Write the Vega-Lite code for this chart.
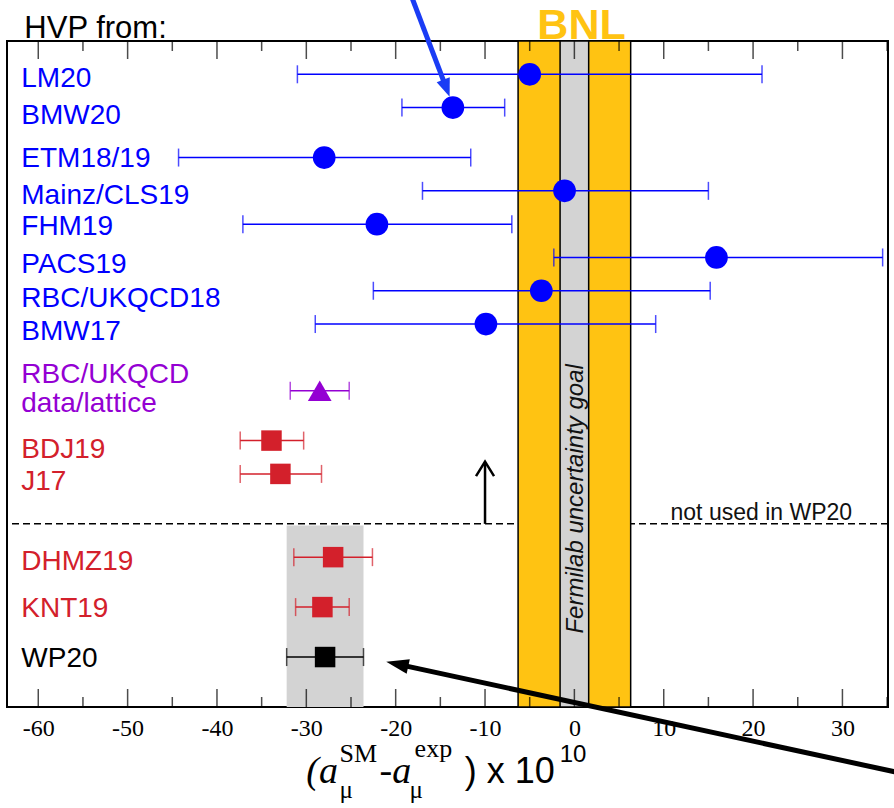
{
  "$schema": "https://vega.github.io/schema/vega-lite/v6.json",
  "width": 881,
  "height": 666,
  "autosize": {"type": "none"},
  "padding": {"left": 7, "top": 41, "right": 6, "bottom": 101},
  "background": "white",
  "data": {"values": [{}]},
  "config": {
    "view": {"stroke": "#000", "strokeWidth": 2},
    "font": "Liberation Sans",
    "axisY": {"disable": true},
    "axisX": {"ticks": false, "domain": false, "grid": false, "labelFont": "Liberation Serif", "labelFontSize": 24, "labelColor": "#000", "labelPadding": 9, "tickCount": 10, "labelExpr": "'' + datum.value", "labelFlush": false, "labelOverlap": false}
  },
  "datasets": {
    "main": [
      {"name": "LM20", "g": "lat", "v": -5.0, "lo": -31.0, "hi": 21.0, "y": 1.0},
      {"name": "BMW20", "g": "lat", "v": -13.6, "lo": -19.3, "hi": -7.8, "y": 2.0},
      {"name": "ETM18/19", "g": "lat", "v": -28.0, "lo": -44.3, "hi": -11.6, "y": 3.5},
      {"name": "Mainz/CLS19", "g": "lat", "v": -1.1, "lo": -17.0, "hi": 15.0, "y": 4.5},
      {"name": "FHM19", "g": "lat", "v": -22.1, "lo": -37.1, "hi": -7.0, "y": 5.5},
      {"name": "PACS19", "g": "lat", "v": 15.9, "lo": -2.3, "hi": 34.5, "y": 6.5},
      {"name": "RBC/UKQCD18", "g": "lat", "v": -3.7, "lo": -22.5, "hi": 15.2, "y": 7.5},
      {"name": "BMW17", "g": "lat", "v": -9.9, "lo": -29.0, "hi": 9.1, "y": 8.5},
      {"name": "RBC/UKQCD data/lattice", "g": "rbc", "v": -28.5, "lo": -31.8, "hi": -25.2, "y": 10.5},
      {"name": "BDJ19", "g": "phen", "v": -33.9, "lo": -37.4, "hi": -30.3, "y": 12.0},
      {"name": "J17", "g": "phen", "v": -32.9, "lo": -37.4, "hi": -28.3, "y": 13.0},
      {"name": "DHMZ19", "g": "phen", "v": -27.0, "lo": -31.4, "hi": -22.6, "y": 15.5},
      {"name": "KNT19", "g": "phen", "v": -28.2, "lo": -31.2, "hi": -25.2, "y": 17.0},
      {"name": "WP20", "g": "wp", "v": -27.9, "lo": -32.2, "hi": -23.6, "y": 18.5}
    ],
    "labels": [
      {"t": "LM20", "g": "lat", "ly": 1.37},
      {"t": "BMW20", "g": "lat", "ly": 2.49},
      {"t": "ETM18/19", "g": "lat", "ly": 3.78},
      {"t": "Mainz/CLS19", "g": "lat", "ly": 4.89},
      {"t": "FHM19", "g": "lat", "ly": 5.83},
      {"t": "PACS19", "g": "lat", "ly": 6.97},
      {"t": "RBC/UKQCD18", "g": "lat", "ly": 7.99},
      {"t": "BMW17", "g": "lat", "ly": 8.98},
      {"t": "RBC/UKQCD", "g": "rbc", "ly": 10.27},
      {"t": "data/lattice", "g": "rbc", "ly": 11.14},
      {"t": "BDJ19", "g": "phen", "ly": 12.52},
      {"t": "J17", "g": "phen", "ly": 13.48},
      {"t": "DHMZ19", "g": "phen", "ly": 15.89},
      {"t": "KNT19", "g": "phen", "ly": 17.3},
      {"t": "WP20", "g": "wp", "ly": 18.8}
    ],
    "bands": [
      {"band": "WP20", "lo": -32.2, "hi": -23.6, "top": 14.55, "bot": 20},
      {"band": "BNL", "lo": -6.3, "hi": 6.3, "top": 0, "bot": 20},
      {"band": "Fermilab", "lo": -1.6, "hi": 1.6, "top": 0, "bot": 20}
    ],
    "ticks": [
      {"v": -60, "kind": "major"}, {"v": -50, "kind": "major"}, {"v": -40, "kind": "major"}, {"v": -30, "kind": "major"}, {"v": -20, "kind": "major"},
      {"v": -10, "kind": "major"}, {"v": 0, "kind": "major"}, {"v": 10, "kind": "major"}, {"v": 20, "kind": "major"}, {"v": 30, "kind": "major"},
      {"v": -55, "kind": "minor"}, {"v": -45, "kind": "minor"}, {"v": -35, "kind": "minor"}, {"v": -25, "kind": "minor"}, {"v": -15, "kind": "minor"},
      {"v": -5, "kind": "minor"}, {"v": 5, "kind": "minor"}, {"v": 15, "kind": "minor"}, {"v": 25, "kind": "minor"}, {"v": 35, "kind": "minor"}
    ],
    "arrows": [
      {"arrow": "blue", "x": -18.5, "y": -1.53, "x2": -14.36, "y2": 1.39},
      {"arrow": "black", "x": 38.67, "y": 22.11, "x2": -19.69, "y2": 18.72}
    ]
  },
  "layer": [
    {
      "data": {"name": "bands"},
      "transform": [{"filter": "datum.band == 'WP20'"}],
      "mark": {"type": "rect", "fill": "#d3d3d3"},
      "encoding": {
        "x": {"field": "lo", "type": "quantitative", "title": null, "scale": {"domain": [-63.5, 35.1], "nice": false, "zero": false}},
        "x2": {"field": "hi"},
        "y": {"field": "top", "type": "quantitative", "scale": {"domain": [0, 20], "reverse": true, "nice": false, "zero": false}},
        "y2": {"field": "bot"}
      }
    },
    {
      "mark": {"type": "rule", "strokeDash": [7, 4], "strokeWidth": 1.5, "color": "#000"},
      "encoding": {"y": {"datum": 14.5, "type": "quantitative"}}
    },
    {
      "data": {"name": "bands"},
      "transform": [{"filter": "datum.band == 'BNL'"}],
      "mark": {"type": "rect", "fill": "#ffc312", "stroke": "#000", "strokeWidth": 1.5},
      "encoding": {
        "x": {"field": "lo", "type": "quantitative", "title": null},
        "x2": {"field": "hi"},
        "y": {"field": "top", "type": "quantitative"},
        "y2": {"field": "bot"}
      }
    },
    {
      "data": {"name": "bands"},
      "transform": [{"filter": "datum.band == 'Fermilab'"}],
      "mark": {"type": "rect", "fill": "#d3d3d3", "stroke": "#000", "strokeWidth": 1.5},
      "encoding": {
        "x": {"field": "lo", "type": "quantitative", "title": null},
        "x2": {"field": "hi"},
        "y": {"field": "top", "type": "quantitative"},
        "y2": {"field": "bot"}
      }
    },
    {
      "mark": {"type": "text", "text": "Fermilab uncertainty goal", "angle": 270, "fontStyle": "italic", "fontSize": 24, "align": "center", "baseline": "middle", "color": "#111"},
      "encoding": {"x": {"datum": 0.15, "type": "quantitative"}, "y": {"datum": 13.75, "type": "quantitative"}}
    },
    {
      "data": {"name": "main"},
      "mark": {"type": "rule", "strokeWidth": 1.5},
      "encoding": {
        "x": {"field": "lo", "type": "quantitative", "title": null},
        "x2": {"field": "hi"},
        "y": {"field": "y", "type": "quantitative"},
        "color": {"field": "g", "type": "nominal", "legend": null, "scale": {"domain": ["lat", "rbc", "phen", "wp"], "range": ["#0000ff", "#9400d3", "#d3202b", "#000000"]}}
      }
    },
    {
      "data": {"name": "main"},
      "mark": {"type": "tick", "orient": "vertical", "size": 18, "thickness": 1.5},
      "encoding": {
        "x": {"field": "lo", "type": "quantitative", "title": null},
        "y": {"field": "y", "type": "quantitative"},
        "color": {"field": "g", "type": "nominal", "legend": null}
      }
    },
    {
      "data": {"name": "main"},
      "mark": {"type": "tick", "orient": "vertical", "size": 18, "thickness": 1.5},
      "encoding": {
        "x": {"field": "hi", "type": "quantitative", "title": null},
        "y": {"field": "y", "type": "quantitative"},
        "color": {"field": "g", "type": "nominal", "legend": null}
      }
    },
    {
      "data": {"name": "main"},
      "transform": [{"filter": "datum.g == 'lat'"}],
      "mark": {"type": "point", "shape": "circle", "filled": true, "opacity": 1, "size": 515},
      "encoding": {
        "x": {"field": "v", "type": "quantitative", "title": null},
        "y": {"field": "y", "type": "quantitative"},
        "color": {"field": "g", "type": "nominal", "legend": null}
      }
    },
    {
      "data": {"name": "main"},
      "transform": [{"filter": "datum.g == 'rbc'"}],
      "mark": {"type": "point", "shape": "triangle-up", "filled": true, "opacity": 1, "size": 560},
      "encoding": {
        "x": {"field": "v", "type": "quantitative", "title": null},
        "y": {"field": "y", "type": "quantitative"},
        "color": {"field": "g", "type": "nominal", "legend": null}
      }
    },
    {
      "data": {"name": "main"},
      "transform": [{"filter": "datum.g == 'phen' || datum.g == 'wp'"}],
      "mark": {"type": "point", "shape": "square", "filled": true, "opacity": 1, "size": 420},
      "encoding": {
        "x": {"field": "v", "type": "quantitative", "title": null},
        "y": {"field": "y", "type": "quantitative"},
        "color": {"field": "g", "type": "nominal", "legend": null}
      }
    },
    {
      "data": {"name": "labels"},
      "mark": {"type": "text", "align": "left", "baseline": "alphabetic", "fontSize": 28},
      "encoding": {
        "x": {"datum": -61.9, "type": "quantitative"},
        "y": {"field": "ly", "type": "quantitative"},
        "text": {"field": "t"},
        "color": {"field": "g", "type": "nominal", "legend": null}
      }
    },
    {
      "mark": {"type": "rule", "strokeWidth": 2.5, "color": "#000"},
      "encoding": {"x": {"datum": -10, "type": "quantitative"}, "y": {"datum": 12.66, "type": "quantitative"}, "y2": {"datum": 14.5}}
    },
    {
      "mark": {"type": "point", "shape": "M-1,0.8L0,-0.8L1,0.8", "filled": false, "stroke": "#000", "strokeWidth": 2.5, "opacity": 1, "size": 324},
      "encoding": {"x": {"datum": -10, "type": "quantitative"}, "y": {"datum": 12.85, "type": "quantitative"}}
    },
    {
      "data": {"name": "ticks"},
      "transform": [{"filter": "datum.kind == 'major'"}],
      "mark": {"type": "tick", "orient": "vertical", "thickness": 1.5, "size": 36, "color": "#000", "clip": true},
      "encoding": {
        "x": {"field": "v", "type": "quantitative", "title": null},
        "y": {"datum": 0, "type": "quantitative"}
      }
    },
    {
      "data": {"name": "ticks"},
      "transform": [{"filter": "datum.kind == 'minor'"}],
      "mark": {"type": "tick", "orient": "vertical", "thickness": 1.5, "size": 20, "color": "#000", "clip": true},
      "encoding": {
        "x": {"field": "v", "type": "quantitative", "title": null},
        "y": {"datum": 0, "type": "quantitative"}
      }
    },
    {
      "data": {"name": "ticks"},
      "transform": [{"filter": "datum.kind == 'major'"}],
      "mark": {"type": "tick", "orient": "vertical", "thickness": 1.5, "size": 36, "color": "#000", "clip": true},
      "encoding": {
        "x": {"field": "v", "type": "quantitative", "title": null},
        "y": {"datum": 20, "type": "quantitative"}
      }
    },
    {
      "data": {"name": "ticks"},
      "transform": [{"filter": "datum.kind == 'minor'"}],
      "mark": {"type": "tick", "orient": "vertical", "thickness": 1.5, "size": 20, "color": "#000", "clip": true},
      "encoding": {
        "x": {"field": "v", "type": "quantitative", "title": null},
        "y": {"datum": 20, "type": "quantitative"}
      }
    },
    {
      "mark": {"type": "text", "text": "HVP from:", "align": "left", "baseline": "alphabetic", "fontSize": 31, "color": "#000"},
      "encoding": {"x": {"datum": -61.56, "type": "quantitative"}, "y": {"datum": -0.1, "type": "quantitative"}}
    },
    {
      "mark": {"type": "text", "text": "BNL", "align": "center", "baseline": "alphabetic", "fontSize": 43, "fontWeight": "bold", "color": "#ffc312"},
      "encoding": {"x": {"datum": 0.8, "type": "quantitative"}, "y": {"datum": -0.06, "type": "quantitative"}}
    },
    {
      "mark": {"type": "text", "text": "not used in WP20", "align": "center", "baseline": "alphabetic", "fontSize": 23, "color": "#111"},
      "encoding": {"x": {"datum": 20.92, "type": "quantitative"}, "y": {"datum": 14.38, "type": "quantitative"}}
    },
    {
      "mark": {"type": "text", "text": "(a", "align": "left", "baseline": "alphabetic", "font": "Liberation Serif", "fontStyle": "italic", "fontSize": 38, "color": "#000"},
      "encoding": {"x": {"datum": -30.0, "type": "quantitative"}, "y": {"datum": 22.28, "type": "quantitative"}}
    },
    {
      "mark": {"type": "text", "text": "SM", "align": "left", "baseline": "alphabetic", "font": "Liberation Serif", "fontSize": 26, "color": "#000"},
      "encoding": {"x": {"datum": -26.28, "type": "quantitative"}, "y": {"datum": 21.65, "type": "quantitative"}}
    },
    {
      "mark": {"type": "text", "text": "μ", "align": "left", "baseline": "alphabetic", "font": "Liberation Serif", "fontSize": 25, "color": "#000"},
      "encoding": {"x": {"datum": -26.28, "type": "quantitative"}, "y": {"datum": 22.73, "type": "quantitative"}}
    },
    {
      "mark": {"type": "text", "text": "-a", "align": "left", "baseline": "alphabetic", "font": "Liberation Serif", "fontStyle": "italic", "fontSize": 38, "color": "#000"},
      "encoding": {"x": {"datum": -21.8, "type": "quantitative"}, "y": {"datum": 22.28, "type": "quantitative"}}
    },
    {
      "mark": {"type": "text", "text": "exp", "align": "left", "baseline": "alphabetic", "font": "Liberation Serif", "fontSize": 26, "color": "#000"},
      "encoding": {"x": {"datum": -17.88, "type": "quantitative"}, "y": {"datum": 21.5, "type": "quantitative"}}
    },
    {
      "mark": {"type": "text", "text": "μ", "align": "left", "baseline": "alphabetic", "font": "Liberation Serif", "fontSize": 25, "color": "#000"},
      "encoding": {"x": {"datum": -18.44, "type": "quantitative"}, "y": {"datum": 22.73, "type": "quantitative"}}
    },
    {
      "mark": {"type": "text", "text": ") x 10", "align": "left", "baseline": "alphabetic", "fontSize": 36, "color": "#000"},
      "encoding": {"x": {"datum": -12.28, "type": "quantitative"}, "y": {"datum": 22.28, "type": "quantitative"}}
    },
    {
      "mark": {"type": "text", "text": "10", "align": "left", "baseline": "alphabetic", "fontSize": 24, "color": "#000"},
      "encoding": {"x": {"datum": -1.64, "type": "quantitative"}, "y": {"datum": 21.65, "type": "quantitative"}}
    },
    {
      "data": {"name": "arrows"},
      "transform": [{"filter": "datum.arrow == 'blue'"}],
      "mark": {"type": "rule", "strokeWidth": 5, "clip": false, "color": "#1a3cf5"},
      "encoding": {
        "x": {"field": "x", "type": "quantitative", "title": null},
        "y": {"field": "y", "type": "quantitative"},
        "x2": {"field": "x2"},
        "y2": {"field": "y2"}
      }
    },
    {
      "data": {"name": "arrows"},
      "transform": [{"filter": "datum.arrow == 'black'"}],
      "mark": {"type": "rule", "strokeWidth": 5, "clip": false, "color": "#000"},
      "encoding": {
        "x": {"field": "x", "type": "quantitative", "title": null},
        "y": {"field": "y", "type": "quantitative"},
        "x2": {"field": "x2"},
        "y2": {"field": "y2"}
      }
    },
    {
      "mark": {"type": "point", "shape": "M0,-1L0.7,0.8L-0.7,0.8Z", "filled": true, "opacity": 1, "color": "#1a3cf5", "size": 400, "angle": 159.2},
      "encoding": {"x": {"datum": -14.36, "type": "quantitative"}, "y": {"datum": 1.39, "type": "quantitative"}}
    },
    {
      "mark": {"type": "point", "shape": "M0,-1L0.6,0.8L-0.6,0.8Z", "filled": true, "opacity": 1, "color": "#000", "size": 625, "angle": 282.2},
      "encoding": {"x": {"datum": -19.69, "type": "quantitative"}, "y": {"datum": 18.72, "type": "quantitative"}}
    }
  ]
}
